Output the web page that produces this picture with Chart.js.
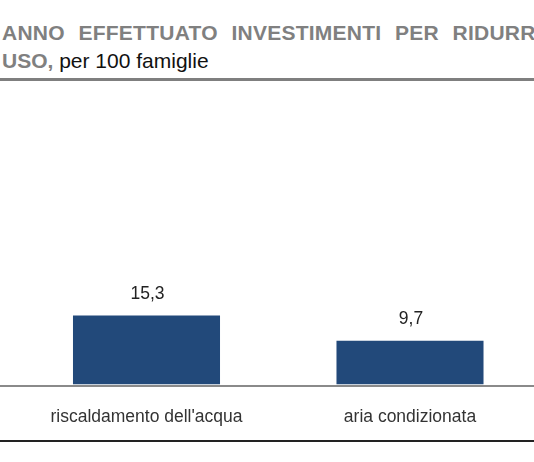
<!DOCTYPE html>
<html>
<head>
<meta charset="utf-8">
<script src="https://cdn.jsdelivr.net/npm/chart.js@4.4.1/dist/chart.umd.min.js"></script>
<style>
  html, body { margin: 0; padding: 0; background: #fff; }
  body { width: 534px; height: 462px; overflow: hidden; position: relative; font-family: "Liberation Sans", Arial, sans-serif; }
  .t { position: absolute; left: 2px; white-space: nowrap; font-size: 21px; line-height: 21px; }
  #t1 { top: 22px; font-weight: bold; color: #808080; letter-spacing: 0.25px; word-spacing: 7.5px; }
  #t2 { top: 50px; color: #111; }
  #t2 b { color: #808080; }
  #topline { position: absolute; left: 0; top: 78px; width: 534px; height: 3px; background: #7f7f7f; }
  #botline { position: absolute; left: 0; top: 440px; width: 534px; height: 2px; background: #222; }
  #wrap { position: absolute; left: 0; top: 0; width: 560px; height: 462px; }
</style>
</head>
<body>
<div class="t" id="t1">ANNO EFFETTUATO INVESTIMENTI PER RIDURRE</div>
<div class="t" id="t2"><b>USO,</b> per 100 famiglie</div>
<div id="topline"></div>
<div id="wrap"><canvas id="c" width="560" height="462"></canvas></div>
<div id="botline"></div>
<script>
const categories = ["riscaldamento dell'acqua", "aria condizionata"];
const values = [15.3, 9.7];

const fmt = v => v.toFixed(1).replace('.', ',');

const decor = {
  id: 'decor',
  afterDatasetsDraw(chart) {
    const ctx = chart.ctx;
    const y0 = chart.scales.y.getPixelForValue(0);
    ctx.save();
    ctx.fillStyle = '#8a8a8a';
    ctx.fillRect(0, Math.round(y0), chart.width, 2);
    ctx.fillStyle = '#222';
    ctx.font = '17.5px "Liberation Sans", Arial, sans-serif';
    ctx.textAlign = 'center';
    ctx.textBaseline = 'alphabetic';
    chart.getDatasetMeta(0).data.forEach((bar, i) => {
      ctx.fillText(fmt(values[i]), bar.x + 1, bar.y - 16.5);
    });
    ctx.restore();
  }
};

new Chart(document.getElementById('c'), {
  type: 'bar',
  data: {
    labels: categories,
    datasets: [{
      data: values,
      backgroundColor: '#22497A',
      borderWidth: 0,
      categoryPercentage: 1,
      barPercentage: 0.558
    }]
  },
  options: {
    responsive: false,
    animation: false,
    events: [],
    layout: { padding: { left: 14.75, right: 18.25, top: 114.4, bottom: 11.5 } },
    plugins: { legend: { display: false }, tooltip: { enabled: false } },
    scales: {
      x: {
        grid: { display: false, drawTicks: false },
        border: { display: false },
        ticks: { color: '#333', padding: 22.5, font: { family: '"Liberation Sans", Arial, sans-serif', size: 17.5 }, maxRotation: 0, autoSkip: false }
      },
      y: {
        display: false,
        min: 0,
        max: 60
      }
    }
  },
  plugins: [decor]
});
</script>
</body>
</html>
